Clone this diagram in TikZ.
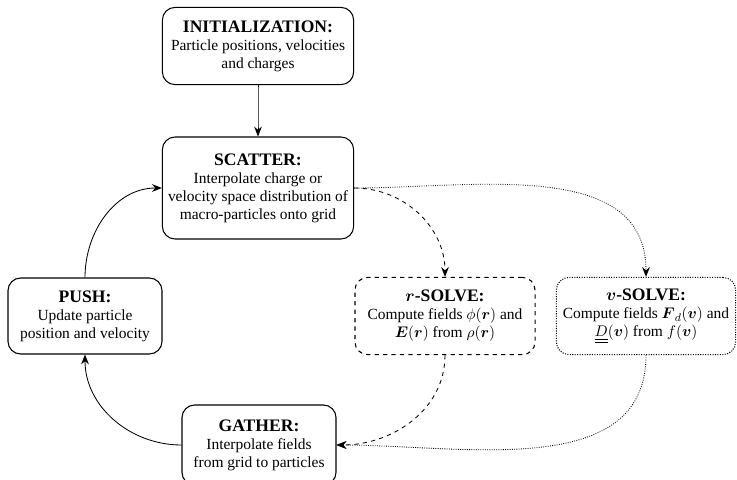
\documentclass[tikz,border=0pt]{standalone}
\usepackage{amsmath}
\usepackage{amssymb}
\usepackage{fontspec}
\setmainfont{Liberation Serif}
\usepackage{tikz}
\usetikzlibrary{arrows.meta}
\tikzset{box/.style={rectangle, draw=black, line width=0.75pt, rounded corners=9pt, align=center, inner sep=2pt, font=\fontsize{11}{12.8}\selectfont},
  edge/.style={-{Stealth[length=7pt, width=5.5pt]}, line width=0.6pt}}
\newcommand{\boxtitle}[1]{{\fontsize{12.5}{16}\selectfont\bfseries #1}}

\begin{document}
\begin{tikzpicture}[x=0.025cm, y=-0.025cm]
        \useasboundingbox (0, 0) rectangle (737, 480);
        \node[box, minimum width=4.78cm, minimum height=1.93cm] (init) at (258, 46) {\boxtitle{INITIALIZATION:}\\ Particle positions, velocities\\ and charges};
        \node[box, minimum width=4.78cm, minimum height=2.55cm] (scatter) at (258, 188) {\boxtitle{SCATTER:}\\ Interpolate charge or\\ velocity space distribution of\\ macro-particles onto grid};
        \node[box, minimum width=3.85cm, minimum height=1.9cm] (push) at (85, 316) {\boxtitle{PUSH:}\\ Update particle\\ position and velocity};
        \node[box, dashed, minimum width=4.5cm, minimum height=1.93cm] (rsolve) at (445, 316) {\boxtitle{$\boldsymbol{r}$-SOLVE:}\\ Compute fields $\phi(\boldsymbol{r})$ and\\ $\boldsymbol{E}(\boldsymbol{r})$ from $\rho(\boldsymbol{r})$};
        \node[box, densely dotted, minimum width=4.48cm, minimum height=1.93cm] (vsolve) at (646, 316) {\boxtitle{$\boldsymbol{v}$-SOLVE:}\\ Compute fields $\boldsymbol{F}_d(\boldsymbol{v})$ and\\ $\underline{\underline{D}}(\boldsymbol{v})$ from $f(\boldsymbol{v})$};
        \node[box, minimum width=3.85cm, minimum height=2cm] (gather) at (259, 445) {\boxtitle{GATHER:}\\ Interpolate fields\\ from grid to particles};

        \foreach \from/\to/\o/\i/\s in {
          init.south/scatter.north/-90/90/solid,
          push.north/scatter.west/90/180/solid,
          gather.west/push.south/180/-90/solid,
          scatter.east/rsolve.north/0/90/dashed,
          scatter.east/vsolve.north/0/90/densely dotted,
          rsolve.south/gather.east/-90/0/dashed,
          vsolve.south/gather.east/-90/0/densely dotted}
        \draw[edge, \s] (\from) to[out=\o, in=\i] (\to);
      \end{tikzpicture}
\end{document}
